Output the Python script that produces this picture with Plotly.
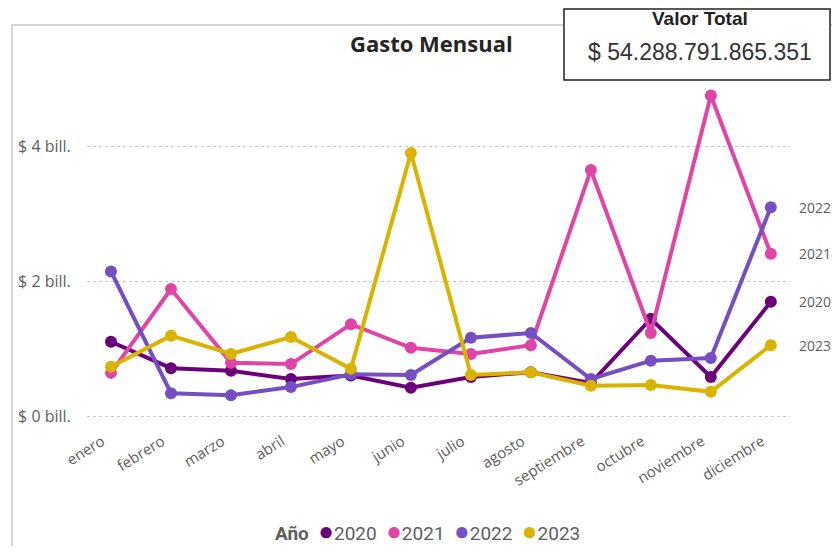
import plotly.graph_objects as go

MESES = ["enero", "febrero", "marzo", "abril", "mayo", "junio", "julio",
         "agosto", "septiembre", "octubre", "noviembre", "diciembre"]
ANIOS = ["2020", "2021", "2022", "2023"]

# gasto mensual en billones de pesos
GASTO_2020 = [1.11, 0.72, 0.68, 0.56, 0.61, 0.43, 0.59, 0.66, 0.50, 1.45, 0.59, 1.70]
GASTO_2021 = [0.65, 1.89, 0.80, 0.78, 1.37, 1.02, 0.93, 1.06, 3.65, 1.24, 4.75, 2.41]
GASTO_2022 = [2.15, 0.35, 0.32, 0.44, 0.63, 0.62, 1.17, 1.24, 0.56, 0.83, 0.87, 3.10]
GASTO_2023 = [0.74, 1.20, 0.93, 1.18, 0.71, 3.90, 0.62, 0.66, 0.46, 0.47, 0.37, 1.06]

Y_TICKS = [0, 2, 4]
Y_TICK_TEXT = ["$ 0 bill.", "$ 2 bill.", "$ 4 bill."]
VALOR_TOTAL = "$ 54.288.791.865.351"

COLORES = {"2020": "#6B007B", "2021": "#E044A7", "2022": "#744EC2", "2023": "#D9B300"}
TEXT_GRIS = "#605E5C"
FONT = "Open Sans, sans-serif"

# the page body has an 8px margin on every side; keep the figure inside the window
OFF = 8
W, H = 840 - 2 * OFF, 554 - 2 * OFF
M_L, M_T = 87 - OFF, 82 - OFF
M_R = OFF + W - 790
M_B = OFF + H - 427


def px_x(px):
    return (px - OFF - M_L) / (W - M_L - M_R)


def px_y(py):
    return (H + OFF - M_B - py) / (H - M_T - M_B)


def paper_note(px, py, text, size, color, family=FONT):
    fig.add_annotation(
        x=px_x(px), y=px_y(py), xref="paper", yref="paper", text=text,
        xanchor="center", yanchor="middle", showarrow=False,
        font=dict(size=size, color=color, family=family),
    )


series = {"2020": GASTO_2020, "2021": GASTO_2021, "2022": GASTO_2022, "2023": GASTO_2023}

fig = go.Figure()
for anio in ANIOS:
    fig.add_trace(go.Scatter(
        x=MESES, y=series[anio], name=anio, mode="lines+markers",
        line=dict(color=COLORES[anio], width=4),
        marker=dict(color=COLORES[anio], size=12),
        showlegend=False,
    ))

# end-of-line labels
for anio in ANIOS:
    fig.add_annotation(
        x=MESES[-1], y=series[anio][-1], text=anio, showarrow=False,
        xanchor="left", yanchor="middle", xshift=26,
        font=dict(size=14, color=TEXT_GRIS, family=FONT),
    )

# compact legend, Power BI style
leyenda = "<b>Año</b>&nbsp;&nbsp;" + "&nbsp;&nbsp;".join(
    f"<span style='color:{COLORES[a]}; font-size:26px'>●</span>{a}" for a in ANIOS
)
paper_note(427, 531, leyenda, 19, TEXT_GRIS, "Roboto, sans-serif")

paper_note(431, 43, "<b>Gasto Mensual</b>", 22, "#252423")

# frame of the visual
fig.add_shape(type="rect", xref="paper", yref="paper",
              x0=px_x(12), x1=px_x(850), y0=px_y(25), y1=px_y(570),
              line=dict(color="#C8C8C8", width=1.5), layer="below")

# total value card
fig.add_shape(type="rect", xref="paper", yref="paper",
              x0=px_x(564), x1=px_x(830), y0=px_y(9), y1=px_y(80),
              line=dict(color="#222222", width=1.5), fillcolor="white", layer="above")
paper_note(700, 18, "<b>Valor Total</b>", 19, "#222222",
           "Liberation Sans Narrow, Liberation Sans, sans-serif")
paper_note(700, 52, VALOR_TOTAL, 23, "#333333", "Liberation Sans, sans-serif")

fig.update_layout(
    width=W, height=H,
    margin=dict(l=M_L, r=M_R, t=M_T, b=M_B, autoexpand=False),
    paper_bgcolor="white", plot_bgcolor="white",
    font=dict(family=FONT, size=14, color=TEXT_GRIS),
    showlegend=False,
)
fig.update_xaxes(
    type="category", range=[-0.4, 11.32], tickangle=-32, showgrid=False, automargin=False,
    showline=False, zeroline=False, tickfont=dict(size=15, color=TEXT_GRIS),
    ticklabelshift=-9, ticklabelstandoff=2,
)
fig.update_yaxes(
    range=[-0.15, 4.95], tickvals=Y_TICKS, ticktext=Y_TICK_TEXT, automargin=False,
    showgrid=True, gridcolor="#C8C8C8", griddash="dot", gridwidth=1,
    zeroline=False, showline=False, ticks="outside", ticklen=12, tickcolor="rgba(0,0,0,0)",
    tickfont=dict(size=16, color=TEXT_GRIS),
)

fig.write_html("out.html")
